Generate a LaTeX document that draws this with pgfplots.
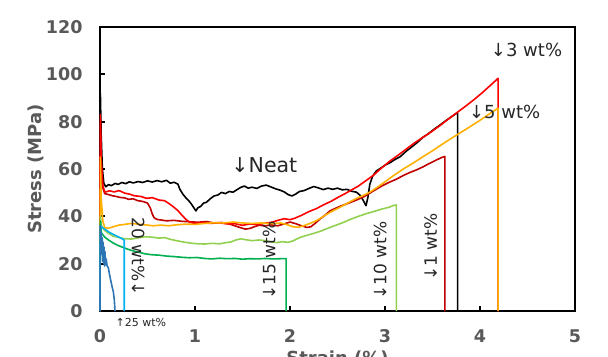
\documentclass[border=0pt]{standalone}
\usepackage{pgfplots}
\pgfplotsset{compat=1.18}
\usepackage{fontspec}
\setmainfont{DejaVu Sans}
\definecolor{labgray}{HTML}{595959}
\definecolor{txt}{HTML}{262626}
\definecolor{cA}{HTML}{C00000}
\definecolor{cB}{HTML}{FF0000}
\definecolor{cC}{HTML}{FFB000}
\definecolor{cD}{HTML}{92D050}
\definecolor{cE}{HTML}{00B050}
\definecolor{cF}{HTML}{00B0F0}
\definecolor{cG}{HTML}{2E75B6}
\begin{document}
\begin{tikzpicture}
\begin{axis}[name=ax, width=475pt, height=284pt, scale only axis,
 xmin=0, xmax=5, ymin=0, ymax=120,
 xtick={0,1,2,3,4,5}, ytick={0,20,40,60,80,100,120},
 tick pos=left, tick align=inside, major tick length=5pt,
 tick style={black, line width=2pt},
 axis line style={line width=2pt},
 /pgf/number format/assume math mode=true,
 ticklabel style={font=\bfseries\fontsize{17.5}{18}\selectfont, text=labgray},
 yticklabel style={xshift=-14pt},
 xticklabel style={yshift=-15pt},
 xlabel={Strain (\%)}, ylabel={Stress (MPa)},
 every axis y label/.style={at={(axis description cs:-0.135,0.5)}, rotate=90, anchor=center, font=\bfseries\fontsize{18}{18}\selectfont, text=labgray},
 every axis x label/.style={at={(axis description cs:0.5,0)}, anchor=north, yshift=-36pt, font=\bfseries\fontsize{18}{18}\selectfont, text=labgray},
 clip=false,
 every axis plot/.append style={line width=1.6pt, mark=none, line join=round},
]
% Neat
\addplot[black] coordinates {(0,0)(0.004,92)(0.012,75)(0.025,60)(0.04,54)(0.06,52.5)(0.09,53.4)(0.12,53.0)(0.16,53.9)(0.19,53.5)(0.23,54.3)(0.27,53.8)(0.31,54.6)(0.35,54.1)(0.40,54.7)(0.45,54.3)(0.50,55.0)(0.55,54.5)(0.60,55.1)(0.65,54.6)(0.70,55.2)(0.74,54.0)(0.78,54.4)(0.82,53.6)(0.84,51.5)(0.87,49.5)(0.90,48.0)(0.93,46.8)(0.96,45.3)(0.99,43.5)(1.01,42.3)(1.03,43.6)(1.06,44.2)(1.09,45.6)(1.12,45.9)(1.16,47.4)(1.20,48.6)(1.24,49.0)(1.28,50.1)(1.32,49.6)(1.36,50.5)(1.40,50.2)(1.44,51.2)(1.48,52.2)(1.52,52.8)(1.56,51.9)(1.60,52.3)(1.65,51.8)(1.70,52.8)(1.75,53.2)(1.80,52.4)(1.85,51.6)(1.90,51.0)(1.94,50.3)(1.98,49.2)(2.02,48.6)(2.06,49.4)(2.10,50.5)(2.15,50.9)(2.20,51.8)(2.25,52.6)(2.30,52.0)(2.35,51.3)(2.40,51.9)(2.45,51.4)(2.50,51.9)(2.55,51.2)(2.60,51.4)(2.65,50.6)(2.70,50.2)(2.74,48.8)(2.77,46.8)(2.80,44.5)(2.82,48.0)(2.84,53.5)(2.87,57.0)(2.91,59.2)(2.96,60.5)(3.00,61.6)(3.05,62.6)(3.10,63.9)(3.16,65.2)(3.22,67.4)(3.28,69.3)(3.34,71.2)(3.40,73.4)(3.46,75.0)(3.52,76.9)(3.58,78.6)(3.64,80.4)(3.70,82.1)(3.75,83.5)(3.765,83.6)(3.765,0)};
% 1 wt%
\addplot[cA] coordinates {(0,0)(0.004,80)(0.012,62)(0.03,52)(0.05,49.6)(0.09,49.2)(0.13,48.7)(0.17,48.4)(0.21,48.0)(0.26,47.8)(0.30,47.2)(0.35,47.4)(0.40,46.6)(0.45,46.3)(0.50,45.6)(0.53,43.5)(0.55,41.0)(0.57,39.4)(0.60,38.7)(0.65,38.4)(0.70,38.1)(0.78,38.3)(0.86,37.9)(0.95,37.7)(1.03,37.5)(1.12,37.8)(1.20,37.2)(1.28,37.4)(1.36,36.8)(1.42,36.0)(1.48,35.2)(1.53,34.6)(1.58,34.9)(1.63,35.7)(1.68,36.3)(1.73,35.9)(1.80,36.4)(1.87,36.0)(1.94,36.8)(2.00,37.6)(2.06,36.9)(2.12,36.0)(2.18,35.3)(2.22,35.6)(2.27,37.2)(2.32,39.0)(2.37,40.5)(2.42,42.3)(2.48,43.4)(2.55,44.6)(2.62,45.6)(2.70,46.9)(2.77,48.1)(2.84,49.8)(2.91,51.5)(2.98,53.1)(3.05,54.5)(3.12,55.7)(3.19,57.2)(3.26,58.5)(3.33,59.6)(3.40,60.9)(3.47,62.4)(3.54,63.8)(3.60,64.9)(3.63,65.3)(3.63,0)};
% 3 wt%
\addplot[cB] coordinates {(0,0)(0.004,83)(0.012,64)(0.03,53)(0.05,50.2)(0.10,50.8)(0.15,50.3)(0.20,50.9)(0.26,49.8)(0.31,49.4)(0.36,48.7)(0.43,48.4)(0.49,47.6)(0.55,47.9)(0.62,46.9)(0.68,46.6)(0.73,45.3)(0.78,43.8)(0.82,42.4)(0.86,40.6)(0.90,38.9)(0.94,37.6)(1.00,37.0)(1.08,37.4)(1.16,37.0)(1.25,37.3)(1.34,36.8)(1.42,36.9)(1.50,36.2)(1.58,36.8)(1.66,36.5)(1.74,37.1)(1.82,37.6)(1.88,38.4)(1.94,39.0)(2.00,38.6)(2.05,39.2)(2.12,40.4)(2.20,42.0)(2.28,43.3)(2.35,44.8)(2.43,46.3)(2.50,47.9)(2.58,49.6)(2.65,51.2)(2.72,52.8)(2.80,55.1)(2.88,57.4)(2.96,60.3)(3.05,63.3)(3.13,65.6)(3.22,68.3)(3.31,71.0)(3.40,73.4)(3.49,75.8)(3.58,78.4)(3.67,81.2)(3.76,83.9)(3.85,86.6)(3.94,89.4)(4.02,92.1)(4.10,95.0)(4.19,98.3)(4.19,0)};
% 5 wt%
\addplot[cC] coordinates {(0,0)(0.004,65)(0.012,48)(0.03,38)(0.05,35.2)(0.09,35.0)(0.14,35.6)(0.20,36.3)(0.26,36.6)(0.33,37.0)(0.40,36.7)(0.48,36.4)(0.56,36.0)(0.64,36.3)(0.72,36.0)(0.80,36.4)(0.90,36.7)(1.00,36.6)(1.10,37.0)(1.20,37.3)(1.30,37.2)(1.40,37.6)(1.50,37.2)(1.60,37.0)(1.70,37.2)(1.80,36.9)(1.90,37.2)(1.97,36.5)(2.03,35.6)(2.09,35.4)(2.15,36.1)(2.21,37.0)(2.28,38.2)(2.36,40.2)(2.45,42.3)(2.53,43.9)(2.62,45.9)(2.70,47.6)(2.78,49.0)(2.84,50.2)(2.92,52.3)(3.00,54.6)(3.10,57.5)(3.20,60.2)(3.30,62.6)(3.40,65.2)(3.50,67.7)(3.60,70.4)(3.70,73.0)(3.80,75.5)(3.90,78.0)(4.00,80.6)(4.10,83.3)(4.19,85.7)(4.19,0)};
% 10 wt%
\addplot[cD] coordinates {(0,0)(0.004,40)(0.015,36)(0.05,34.0)(0.09,32.8)(0.14,31.6)(0.19,31.2)(0.25,30.6)(0.33,30.4)(0.40,30.9)(0.48,31.4)(0.55,31.2)(0.62,30.8)(0.68,31.0)(0.75,30.2)(0.82,29.6)(0.90,29.0)(0.97,28.6)(1.03,28.4)(1.10,28.3)(1.18,28.6)(1.26,28.4)(1.33,28.9)(1.38,29.2)(1.43,30.0)(1.48,30.5)(1.54,30.1)(1.60,29.7)(1.67,30.0)(1.73,29.8)(1.80,29.2)(1.86,28.9)(1.92,29.3)(1.98,29.0)(2.03,29.6)(2.08,30.6)(2.12,31.3)(2.18,32.0)(2.25,32.8)(2.32,33.7)(2.40,35.0)(2.48,36.2)(2.56,37.4)(2.64,38.8)(2.72,40.0)(2.80,41.1)(2.88,42.0)(2.96,43.0)(3.04,43.8)(3.09,44.6)(3.12,44.8)(3.12,0)};
% 15 wt%
\addplot[cE] coordinates {(0,0)(0.004,38)(0.015,33)(0.05,31.2)(0.09,30.0)(0.14,28.7)(0.19,27.7)(0.26,26.6)(0.33,25.6)(0.40,24.9)(0.47,24.2)(0.54,23.8)(0.62,23.6)(0.70,23.2)(0.78,23.0)(0.86,22.7)(0.94,22.5)(1.02,22.6)(1.10,22.2)(1.18,22.0)(1.26,22.3)(1.34,22.1)(1.42,22.2)(1.50,21.9)(1.58,22.1)(1.66,22.0)(1.74,22.2)(1.82,22.0)(1.90,22.1)(1.96,22.1)(1.96,0)};
% 20 wt%
\addplot[cF] coordinates {(0,0)(0.004,36)(0.015,35.5)(0.05,34.6)(0.10,33.2)(0.15,32.2)(0.20,31.2)(0.245,30.2)(0.255,30.0)(0.255,0)};
% 25 wt%
\addplot[cG] coordinates {(0,0)(0.003,36)(0.008,28)(0.013,33)(0.018,24)(0.023,31)(0.028,21)(0.033,29)(0.038,20)(0.043,27)(0.048,19)(0.053,25)(0.058,19.5)(0.065,22)(0.075,19)(0.088,18.3)(0.10,15.5)(0.115,12.5)(0.13,9.8)(0.14,8.2)(0.15,5)(0.158,0)};
% labels
\node[font=\fontsize{20.5}{21}\selectfont, text=txt] at (axis cs:1.73,61.6) {↓Neat};
\node[font=\fontsize{18}{18}\selectfont, text=txt] at (axis cs:4.49,110.3) {↓3 wt\%};
\node[font=\fontsize{18}{18}\selectfont, text=txt] at (axis cs:4.26,84.3) {↓5 wt\%};
\node[font=\fontsize{17}{17}\selectfont, text=txt, rotate=-90] at (axis cs:0.40,23) {20 wt\%↓};
\node[font=\fontsize{17}{17}\selectfont, text=txt, rotate=90] at (axis cs:1.78,21.4) {↓15 wt\%};
\node[font=\fontsize{17}{17}\selectfont, text=txt, rotate=90] at (axis cs:2.95,21.4) {↓10 wt\%};
\node[font=\fontsize{17}{17}\selectfont, text=txt, rotate=90] at (axis cs:3.48,26.9) {↓1 wt\%};
\node[font=\fontsize{11}{11}\selectfont, text=txt] at (axis cs:0.43,-5.0) {↑25 wt\%};
\end{axis}
\pgfresetboundingbox
\path[use as bounding box] ([shift={(-100pt,-45.5pt)}]ax.south west) rectangle ([shift={(33pt,27pt)}]ax.north east);
\end{tikzpicture}
\end{document}
